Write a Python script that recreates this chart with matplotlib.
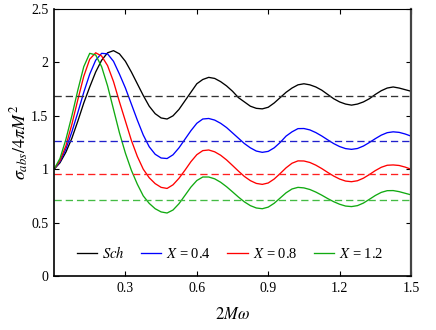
import matplotlib

matplotlib.use("Agg")
import matplotlib.pyplot as plt

# frequency 2M*omega
omega = [
    0.0, 0.025, 0.05, 0.075, 0.1, 0.125, 0.15, 0.175, 0.2, 0.225,
    0.25, 0.275, 0.3, 0.325, 0.35, 0.375, 0.4, 0.425, 0.45, 0.475,
    0.5, 0.525, 0.55, 0.575, 0.6, 0.625, 0.65, 0.675, 0.7, 0.725,
    0.75, 0.775, 0.8, 0.825, 0.85, 0.875, 0.9, 0.925, 0.95, 0.975,
    1.0, 1.025, 1.05, 1.075, 1.1, 1.125, 1.15, 1.175, 1.2, 1.225,
    1.25, 1.275, 1.3, 1.325, 1.35, 1.375, 1.4, 1.425, 1.45, 1.475,
    1.5,
]

# absorption cross section / 4 pi M^2
sigma_sch = [
    1.00, 1.06, 1.16, 1.29, 1.45, 1.62, 1.77, 1.91, 2.02, 2.09,
    2.11, 2.08, 2.01, 1.91, 1.80, 1.69, 1.59, 1.52, 1.48, 1.47,
    1.50, 1.56, 1.64, 1.72, 1.80, 1.84, 1.86, 1.85, 1.82, 1.78,
    1.73, 1.67, 1.63, 1.59, 1.57, 1.565, 1.58, 1.62, 1.67, 1.72,
    1.76, 1.79, 1.80, 1.79, 1.77, 1.74, 1.70, 1.66, 1.63, 1.61,
    1.60, 1.61, 1.63, 1.66, 1.70, 1.735, 1.76, 1.77, 1.76, 1.745,
    1.73,
]
sigma_x04 = [
    1.00, 1.07, 1.19, 1.35, 1.53, 1.72, 1.89, 2.02, 2.085, 2.08,
    2.01, 1.89, 1.76, 1.61, 1.46, 1.32, 1.21, 1.14, 1.105, 1.10,
    1.135, 1.20, 1.28, 1.36, 1.43, 1.47, 1.475, 1.46, 1.43, 1.39,
    1.34, 1.29, 1.24, 1.20, 1.17, 1.158, 1.167, 1.20, 1.25, 1.31,
    1.35, 1.38, 1.381, 1.368, 1.343, 1.311, 1.275, 1.24, 1.212, 1.193,
    1.186, 1.194, 1.217, 1.25, 1.286, 1.319, 1.342, 1.35, 1.345, 1.33,
    1.31,
]
sigma_x08 = [
    1.00, 1.08, 1.22, 1.42, 1.65, 1.87, 2.03, 2.09, 2.06, 1.97,
    1.82, 1.63, 1.45, 1.27, 1.12, 1.00, 0.92, 0.865, 0.83, 0.82,
    0.854, 0.915, 0.99, 1.07, 1.136, 1.174, 1.18, 1.163, 1.131, 1.087,
    1.035, 0.982, 0.932, 0.893, 0.867, 0.858, 0.871, 0.908, 0.959, 1.013,
    1.056, 1.078, 1.077, 1.063, 1.038, 1.006, 0.970, 0.936, 0.908, 0.889,
    0.883, 0.892, 0.916, 0.950, 0.987, 1.018, 1.037, 1.04, 1.035, 1.02,
    1.00,
]
sigma_x12 = [
    1.00, 1.10, 1.28, 1.50, 1.74, 1.96, 2.085, 2.07, 1.96, 1.78,
    1.56, 1.34, 1.15, 0.99, 0.86, 0.75, 0.68, 0.63, 0.60, 0.59,
    0.618, 0.677, 0.754, 0.832, 0.894, 0.927, 0.927, 0.910, 0.878, 0.836,
    0.788, 0.739, 0.694, 0.659, 0.637, 0.63, 0.645, 0.681, 0.73, 0.779,
    0.815, 0.83, 0.825, 0.81, 0.786, 0.757, 0.725, 0.696, 0.672, 0.655,
    0.65, 0.659, 0.683, 0.718, 0.754, 0.783, 0.799, 0.80, 0.79, 0.775,
    0.76,
]

# high frequency (geometric) limits
geo_limits = [1.685, 1.264, 0.952, 0.715]

labels = [r"$Sch$", r"$X$ = 0.4", r"$X$ = 0.8", r"$X$ = 1.2"]
colors = ["black", "#0000ff", "#ff0000", "#11aa11"]
dash_colors = ["#333333", "#2020cc", "#ff2020", "#44bb44"]

x_ticks = [0.3, 0.6, 0.9, 1.2, 1.5]
x_tick_labels = ["0.3", "0.6", "0.9", "1.2", "1.5"]
y_ticks = [0, 0.5, 1, 1.5, 2, 2.5]
y_tick_labels = ["0", "0.5", "1", "1.5", "2", "2.5"]


def main():
    plt.rcParams["font.family"] = "serif"
    plt.rcParams["font.serif"] = ["Liberation Serif", "DejaVu Serif"]
    plt.rcParams["mathtext.fontset"] = "stix"

    fig = plt.figure(figsize=(4.36, 3.30), dpi=100)
    ax = fig.add_axes([0.1239, 0.1636, 0.8188, 0.8091])

    all_sigma = [sigma_sch, sigma_x04, sigma_x08, sigma_x12]
    for sig, lab, col in zip(all_sigma, labels, colors):
        ax.plot(omega, sig, color=col, lw=0.95, label=lab)

    for lvl, col in zip(geo_limits, dash_colors):
        ax.axhline(lvl, color=col, lw=0.95, ls=(0, (5.5, 3)))

    ax.set_xlim(0, 1.5)
    ax.set_ylim(0, 2.5)
    ax.set_xticks(x_ticks)
    ax.set_xticklabels(x_tick_labels)
    ax.set_yticks(y_ticks)
    ax.set_yticklabels(y_tick_labels)
    ax.tick_params(
        direction="in", top=True, right=True, length=3.5, width=0.8,
        labelsize=10, pad=4,
    )

    for side in ["left", "bottom"]:
        ax.spines[side].set_linewidth(1.2)
    ax.spines["top"].set_linewidth(0.8)
    ax.spines["right"].set_linewidth(1.6)
    ax.spines["right"].set_color("#444444")

    ax.set_xlabel(r"$2M\omega$", fontsize=12, labelpad=9)
    ax.set_ylabel(r"$\sigma_{abs}/4\pi M^2$", fontsize=13, labelpad=0)

    ax.legend(
        loc="center", bbox_to_anchor=(0.493, 0.086), ncol=4, frameon=False,
        fontsize=10.5, handlelength=1.4, handletextpad=0.35, columnspacing=1.1,
    )

    fig.savefig("out.png", dpi=100)


if __name__ == "__main__":
    main()
